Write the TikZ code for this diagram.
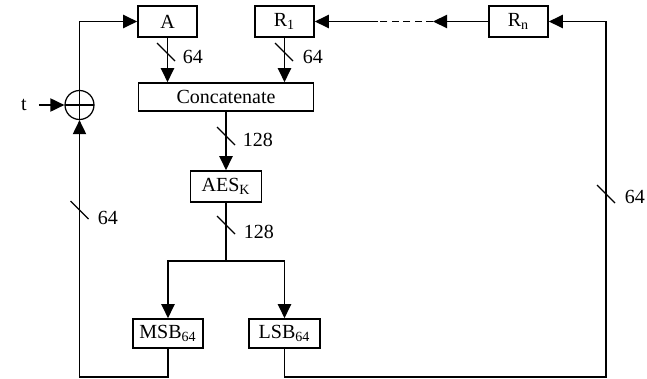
\documentclass[tikz,border=0pt]{standalone}
\usepackage{fontspec}
\setmainfont{Liberation Serif}
\usetikzlibrary{arrows.meta}

\begin{document}
\begin{tikzpicture}[
  x=0.02cm, y=-0.02cm,
  line width=0.9pt,
  >={Triangle[length=8pt,width=7.5pt]},
  font=\fontsize{11.4}{13}\selectfont,
  reg/.style={draw, inner sep=0pt, minimum height=0.62cm, minimum width=#1},
  xor/.style={draw, circle, inner sep=0pt, minimum size=0.58cm, line width=0.7pt,
    path picture={\draw[line width=0.9pt] (path picture bounding box.west) -- (path picture bounding box.east)
      (path picture bounding box.north) -- (path picture bounding box.south);}},
  bus_lbl/.style={anchor=west, inner sep=0pt},
  slash/.style={line width=0.8pt},
]
\useasboundingbox (0,0) rectangle (647,379);
% Registers
\node[reg=1.18cm] (A) at (167.5,21.5) {A};
\node[reg=1.18cm] (R1) at (284.5,21.5) {R\textsubscript{1}};
\node[reg=1.18cm] (Rn) at (518.5,21.5) {R\textsubscript{n}};
% Concatenate, AES and halves
\node[reg=3.5cm, minimum height=0.56cm] (cat) at (226,97) {Concatenate};
\node[reg=1.42cm] (aes) at (226,186.5) {AES\textsubscript{K}};
\node[reg=1.41cm, minimum height=0.58cm] (msb) at (168,333.5) {MSB\textsubscript{64}};
\node[reg=1.42cm, minimum height=0.58cm] (lsb) at (284.5,333.5) {LSB\textsubscript{64}};
% XOR with t
\node[xor] (x) at (79.5,105) {};
\node[inner xsep=6.5pt] (t) at (24,105) {t};
% corners of the feedback lines
\coordinate (br) at (226,261);
\coordinate (bl) at (79.5,377);
\coordinate (bot_r) at (606,377);
\coordinate (top_r) at (606,21.5);
\coordinate (d1) at (433,21.5);
\coordinate (d2) at (378,21.5);
% connectors
\draw[->] (t) -- (x);
\draw[->] (x) |- (A);
\draw[->] (msb) |- (bl) -- (x);
\draw[->] (lsb) |- (bot_r) -- (top_r) -- (Rn);
\draw[->] (Rn) -- (d1);
\draw[dash pattern=on 4pt off 2.5pt] (d1) -- (d2);
\draw[->] (d2) -- (R1);
\draw[->] (A) -- (A|-cat.north);
\draw[->] (R1) -- (R1|-cat.north);
\draw[->] (cat) -- (aes);
\draw (aes) -- (br);
\draw[->] (br) -| (msb);
\draw[->] (br) -| (lsb);
% bus widths
\foreach \sx/\sy in {166/52, 284/52, 226/136, 226/225, 79.5/210, 606/194}
  \draw[slash] (\sx-9,\sy-9) -- (\sx+9,\sy+9);
\node[bus_lbl] (wA) at (182,57) {64};
\node[bus_lbl] (wR) at (302,57) {64};
\node[bus_lbl] (wcat) at (242,140) {128};
\node[bus_lbl] (waes) at (243,232) {128};
\node[bus_lbl] (wl) at (97,218) {64};
\node[bus_lbl] (wr) at (624,197) {64};
\end{tikzpicture}
\end{document}
